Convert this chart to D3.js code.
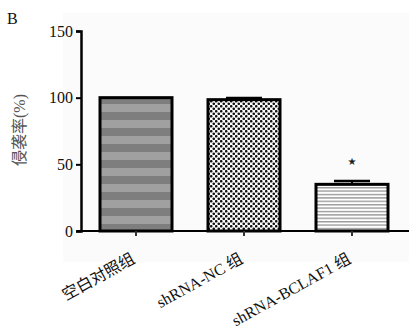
<!DOCTYPE html>
<html><head><meta charset="utf-8">
<script src="https://cdn.jsdelivr.net/npm/d3@7/dist/d3.min.js"></script>
<style>body{margin:0;background:#fff}svg{display:block}</style>
</head><body>
<script>
const categories = ["空白对照组", "shRNA-NC 组", "shRNA-BCLAF1 组"];
const values = [100, 98.5, 35];
const errors = [0, 1.2, 2.5];
const yTicks = [0, 50, 100, 150];
const marks = ["", "", "★"];

const W = 409, H = 332;
const svg = d3.select("body").append("svg").attr("width", W).attr("height", H);
const font = "'Liberation Serif','Noto Sans CJK SC',serif";

svg.append("rect").attr("x", 63).attr("y", 13).attr("width", W - 63).attr("height", 249).attr("fill", "#fbfbfb");

const defs = svg.append("defs");
// pattern 1: grey checker with subtle bands
const p1 = defs.append("pattern").attr("id", "p1").attr("patternUnits", "userSpaceOnUse").attr("width", 4).attr("height", 16);
p1.append("rect").attr("width", 4).attr("height", 16).attr("fill", "#8e8e8e");
for (let r = 0; r < 16; r += 2) {
  for (let c = 0; c < 4; c += 2) {
    const off = (r / 2) % 2 ? 2 : 0;
    p1.append("rect").attr("x", (c + off) % 4).attr("y", r).attr("width", 2).attr("height", 2)
      .attr("fill", r < 8 ? "#7e7e7e" : "#a0a0a0");
  }
}
// pattern 2: black dot checker
const p2 = defs.append("pattern").attr("id", "p2").attr("patternUnits", "userSpaceOnUse").attr("width", 5).attr("height", 5);
p2.append("rect").attr("width", 5).attr("height", 5).attr("fill", "#fff");
p2.append("circle").attr("cx", 1.25).attr("cy", 1.25).attr("r", 1.3).attr("fill", "#111");
p2.append("circle").attr("cx", 3.75).attr("cy", 3.75).attr("r", 1.3).attr("fill", "#111");
// pattern 3: horizontal lines
const p3 = defs.append("pattern").attr("id", "p3").attr("patternUnits", "userSpaceOnUse").attr("width", 4).attr("height", 3.4);
p3.append("rect").attr("width", 4).attr("height", 3.4).attr("fill", "#fff");
p3.append("rect").attr("y", 0).attr("width", 4).attr("height", 1.4).attr("fill", "#9a9a9a");
const fills = ["url(#p1)", "url(#p2)", "url(#p3)"];

const x = d3.scaleBand().domain(categories).range([82, 406]).paddingInner(1/3).paddingOuter(1/6);
const y = d3.scaleLinear().domain([0, 150]).range([231, 31]);

// bars
svg.selectAll("rect.bar").data(categories).enter().append("rect").attr("class", "bar")
  .attr("x", d => x(d)).attr("width", x.bandwidth())
  .attr("y", (d, i) => y(values[i])).attr("height", (d, i) => y(0) - y(values[i]))
  .attr("fill", (d, i) => fills[i]).attr("stroke", "#000").attr("stroke-width", 3);

// error bars
categories.forEach((c, i) => {
  if (!errors[i]) return;
  const cx = x(c) + x.bandwidth() / 2;
  const top = y(values[i] + errors[i]);
  svg.append("line").attr("x1", cx).attr("x2", cx).attr("y1", y(values[i])).attr("y2", top).attr("stroke", "#000").attr("stroke-width", 2);
  svg.append("line").attr("x1", cx - 18).attr("x2", cx + 18).attr("y1", top).attr("y2", top).attr("stroke", "#000").attr("stroke-width", 2.5);
  if (marks[i]) svg.append("text").attr("x", cx).attr("y", y(values[i] + errors[i]) - 16)
    .attr("text-anchor", "middle").attr("font-family", "'DejaVu Sans'").attr("font-size", 10).attr("fill", "#222").text(marks[i]);
});

// y axis
const ya = svg.append("g").attr("transform", "translate(81,0)").call(d3.axisLeft(y).tickValues(yTicks).tickSize(5).tickPadding(3));
ya.select(".domain").attr("stroke-width", 2.5);
ya.selectAll(".tick line").attr("stroke-width", 2);
ya.selectAll("text").attr("font-family", font).attr("font-size", 16).attr("fill", "#111");

// x axis
const xa = svg.append("g").attr("transform", "translate(0,231)").call(d3.axisBottom(x).tickSize(5).tickSizeOuter(0));
xa.select(".domain").attr("d", "M77,0H409").attr("stroke-width", 2);
xa.selectAll(".tick line").attr("stroke-width", 2).attr("stroke", "#333");
xa.selectAll("text").attr("font-family", font).attr("font-size", 16).attr("fill", "#111")
  .attr("text-anchor", "end").attr("dy", 0).attr("y", 0)
  .attr("transform", "translate(0,31) rotate(-29)");

// y label
svg.append("text").attr("transform", "translate(25,130) rotate(-90)").attr("text-anchor", "middle")
  .attr("font-family", font).attr("font-size", 16).attr("fill", "#555").text("侵袭率(%)");
// panel letter
svg.append("text").attr("x", 7).attr("y", 24).attr("font-family", font).attr("font-size", 16).attr("fill", "#111").text("B");
</script>
</body></html>
